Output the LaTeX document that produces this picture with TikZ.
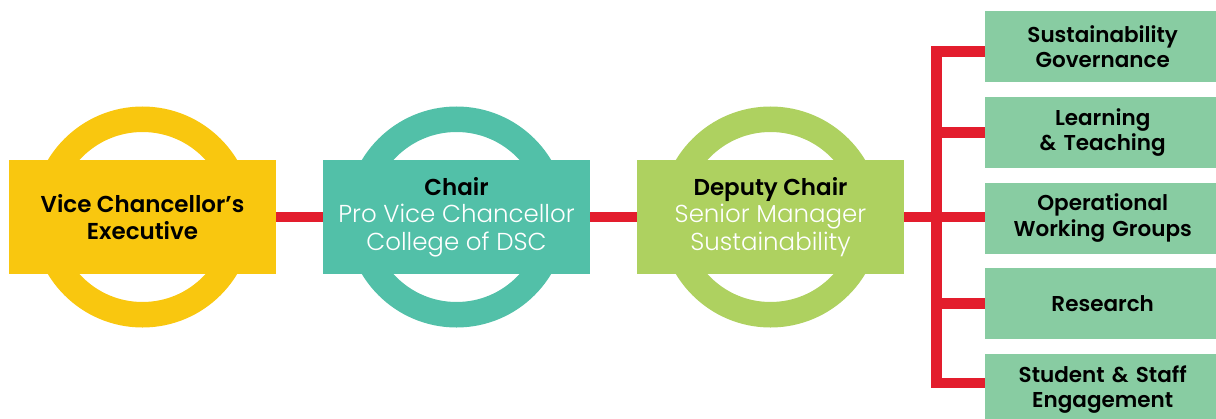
\documentclass[tikz,border=0pt]{standalone}
\usepackage{fontspec}
\setmainfont{Poppins}[BoldFont=* SemiBold]
\newfontfamily\lightfont{Poppins Light}
\definecolor{cyellow}{HTML}{F9C70F}
\definecolor{cteal}{HTML}{52C0A8}
\definecolor{cgreen}{HTML}{AED160}
\definecolor{cbox}{HTML}{88CCA2}
\definecolor{cred}{HTML}{E31D2D}
\newcommand{\subtxt}[1]{{\lightfont\fontsize{24.5}{27.5}\selectfont\color{white}#1}}
\tikzset{
  ring/.style={line width=25.5pt},
  mainbox/.style={minimum width=267pt, minimum height=114pt, inner sep=0pt, align=center,
    font=\fontsize{23}{27.5}\selectfont},
  sidebox/.style={fill=cbox, minimum width=235pt, minimum height=71pt, inner sep=0pt, align=center,
    text width=235pt, font=\bfseries\fontsize{21.5}{25.5}\selectfont},
  redline/.style={draw=cred, line width=10.5pt}
}
\begin{document}
\begin{tikzpicture}[x=1pt,y=-1pt]
\useasboundingbox (0,0) rectangle (1216,418);
% rings
\draw[ring, cyellow] (142.5,217) circle (97.75);
\draw[ring, cteal] (456.5,217) circle (97.75);
\draw[ring, cgreen] (770.5,217) circle (97.75);
% main boxes
\node[mainbox, fill=cyellow] (vc) at (142.5,217) {\bfseries Vice Chancellor’s\\\bfseries Executive};
\node[mainbox, fill=cteal] (chair) at (456.5,217) {\bfseries Chair\\\subtxt{Pro Vice Chancellor}\\\subtxt{College of DSC}};
\node[mainbox, fill=cgreen] (dep) at (770.5,217) {\bfseries Deputy Chair\\\subtxt{Senior Manager}\\\subtxt{Sustainability}};
% side boxes
\node[sidebox, anchor=west] (b1) at (985,46.5) {Sustainability\\Governance};
\node[sidebox, anchor=west] (b2) at (985,132.5) {Learning\\\& Teaching};
\node[sidebox, anchor=west] (b3) at (985,218) {Operational\\Working Groups};
\node[sidebox, anchor=west] (b4) at (985,303.5) {Research};
\node[sidebox, anchor=west] (b5) at (985,389.5) {Student \& Staff\\Engagement};
% connectors
\coordinate (bus) at (936.5,217);
\draw[redline] (vc.east) -- (chair.west);
\draw[redline] (chair.east) -- (dep.west);
\draw[redline] (dep.east) -- (dep.east -| b3.west);
\draw[redline, line join=miter] ([yshift=-5pt]b1.west) -| (bus) |- ([yshift=6.5pt]b5.west);
\draw[redline] (b2.west) -- (b2.west -| bus);
\draw[redline] (b4.west) -- (b4.west -| bus);
\end{tikzpicture}
\end{document}
